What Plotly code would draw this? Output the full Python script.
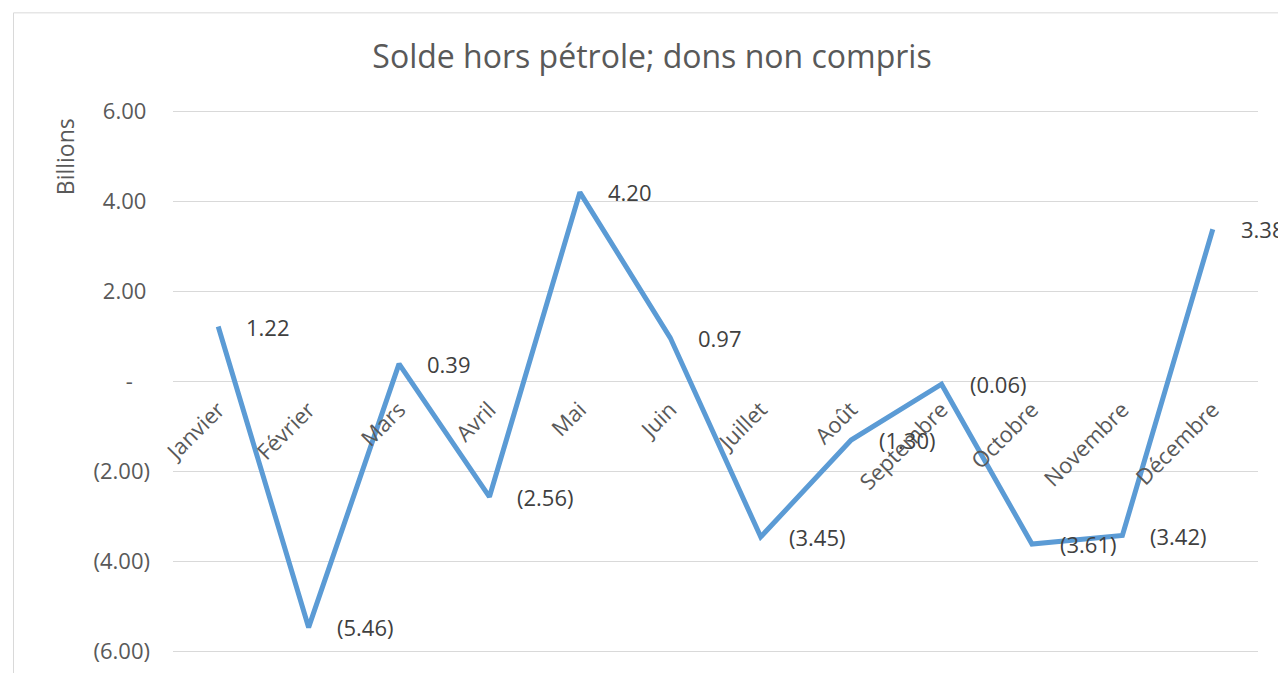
import plotly.graph_objects as go

months = ["Janvier", "Février", "Mars", "Avril", "Mai", "Juin", "Juillet",
          "Août", "Septembre", "Octobre", "Novembre", "Décembre"]
values = [1.22, -5.46, 0.39, -2.56, 4.20, 0.97, -3.45, -1.30, -0.06, -3.61, -3.42, 3.38]
y_tickvals = [-6, -4, -2, 0, 2, 4, 6]
y_ticktext = ["(6.00)", "(4.00)", "(2.00)", "-\u00a0\u00a0\u00a0", "2.00\u2009", "4.00\u2009", "6.00\u2009"]


def fmt(v):
    return f"({abs(v):.2f})" if v < 0 else f"{v:.2f}"


FONT = "Open Sans"
TICK_COLOR = "#595959"
LABEL_COLOR = "#404040"

# plot area target (page px): x 173-1258, y(6)=111, y(-6)=652
YPAD = 0.05
PX_PER_UNIT = 541 / 12
W, H = 1278, 673
ML = 173
PW = 1085
MT = 111 - YPAD * PX_PER_UNIT
PH = (12 + 2 * YPAD) * PX_PER_UNIT


def py(page_y):
    return (652 + YPAD * PX_PER_UNIT - page_y) / PH


def px(page_x):
    return (page_x - 173) / PW


fig = go.Figure()
fig.add_trace(go.Scatter(
    x=months, y=values, mode="lines",
    line=dict(color="#5B9BD5", width=5),
    hoverinfo="skip", showlegend=False, cliponaxis=False,
))

annotations = []
for m, v in zip(months, values):
    annotations.append(dict(
        x=m, y=v, xref="x", yref="y", text=fmt(v), showarrow=False,
        xanchor="left", yanchor="middle", xshift=26,
        font=dict(family=FONT, size=22, color=LABEL_COLOR),
    ))
annotations.append(dict(
    x=px(65), y=py(157), xref="paper", yref="paper", text="Billions",
    textangle=-90, showarrow=False, xanchor="center", yanchor="middle",
    font=dict(family=FONT, size=23, color=TICK_COLOR),
))

fig.update_layout(
    width=W, height=H, autosize=False,
    margin=dict(l=ML, r=W - ML - PW, t=MT, b=H - MT - PH, autoexpand=False),
    paper_bgcolor="white", plot_bgcolor="white",
    title=dict(text="Solde hors pétrole; dons non compris",
               x=652 / W, xref="container", xanchor="center",
               y=1 - 57 / H, yref="container", yanchor="middle",
               font=dict(family=FONT, size=32, color=TICK_COLOR)),
    xaxis=dict(
        type="category", range=[-0.5, 11.5], automargin=False,
        anchor="free", position=py(381.5),
        showgrid=False, showline=False, zeroline=False, ticks="",
        tickangle=-45, ticklabelstandoff=10,
        tickfont=dict(family=FONT, size=22, color=TICK_COLOR),
    ),
    yaxis=dict(
        range=[-6 - YPAD, 6 + YPAD], tickvals=y_tickvals, ticktext=y_ticktext,
        automargin=False,
        showgrid=True, gridcolor="#D9D9D9", gridwidth=1,
        zeroline=False, showline=False, ticks="",
        ticklabelstandoff=22,
        tickfont=dict(family=FONT, size=22, color=TICK_COLOR),
    ),
    annotations=annotations,
    shapes=[dict(type="rect", xref="paper", yref="paper",
                 x0=px(13.5), x1=1.2,
                 y0=-0.2, y1=py(12.5),
                 line=dict(color="#D9D9D9", width=1), fillcolor="rgba(0,0,0,0)",
                 layer="below")],
)

fig.write_html(
    "out.html",
    config={"displayModeBar": False, "staticPlot": True},
    post_script="document.body.style.margin='0';document.body.style.overflow='hidden';",
)
